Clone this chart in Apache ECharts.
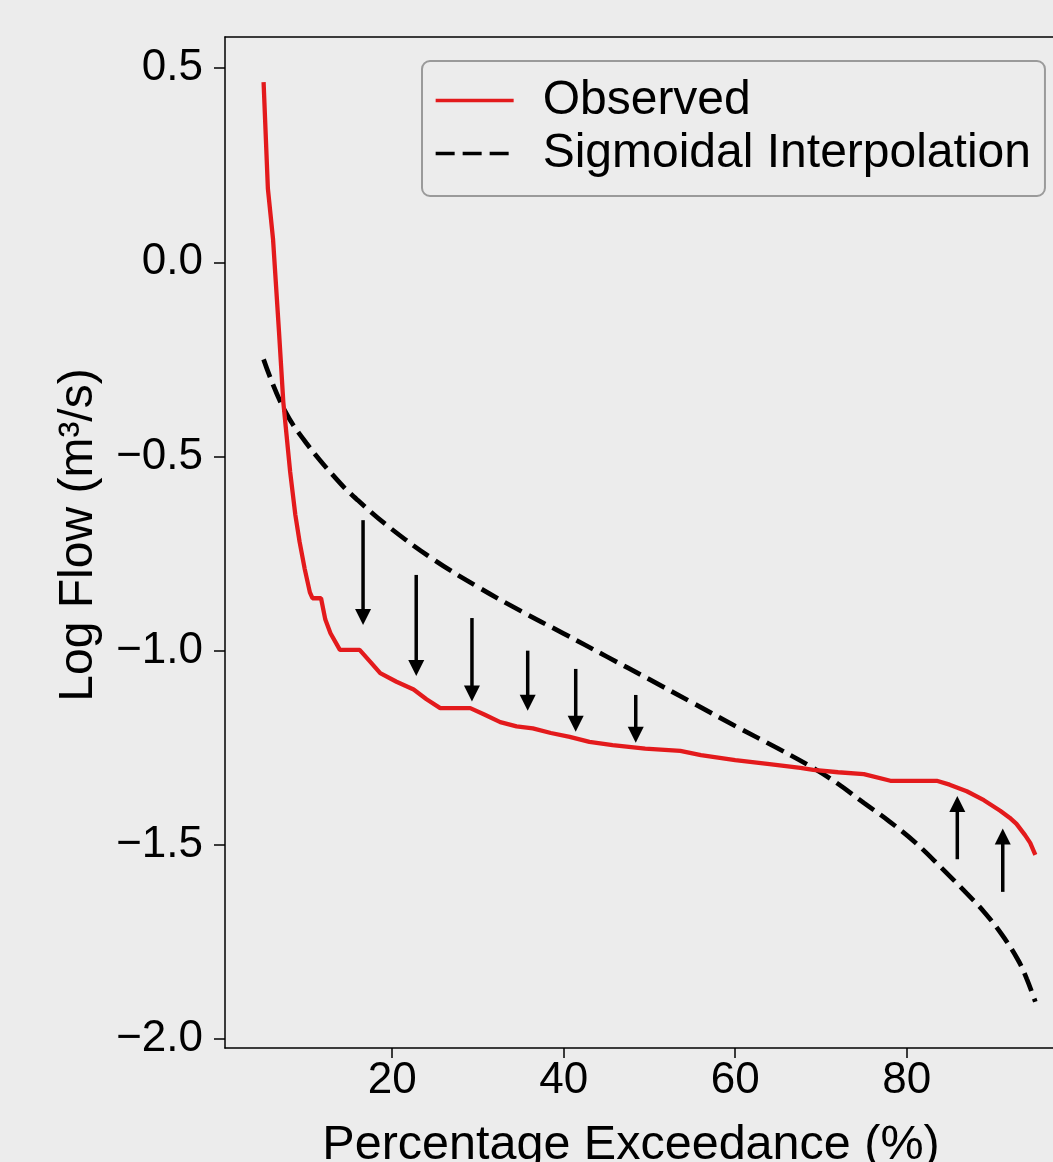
<!DOCTYPE html>
<html>
<head>
<meta charset="utf-8">
<script src="https://cdn.jsdelivr.net/npm/echarts@6/dist/echarts.min.js"></script>
<style>
html,body{margin:0;padding:0;background:#ececec;}
#chart{width:1053px;height:1162px;}
</style>
</head>
<body>
<div id="chart"></div>
<script>
// Observed flow duration curve: [percentage exceedance, log flow]
const observed = [
  [5.0, 0.464], [5.5, 0.19], [6.1, 0.06], [6.8, -0.18], [7.3, -0.36],
  [8.1, -0.54], [8.7, -0.65], [9.2, -0.72], [9.8, -0.79], [10.4, -0.85],
  [10.7, -0.865], [11.7, -0.865], [12.2, -0.92], [12.8, -0.955], [13.9, -0.998],
  [16.2, -0.998], [17.5, -1.03], [18.6, -1.058], [20.5, -1.08], [22.5, -1.10],
  [24.0, -1.125], [25.6, -1.148], [29.1, -1.148], [30.8, -1.165], [32.6, -1.184],
  [34.5, -1.195], [36.4, -1.20], [38.5, -1.212], [40.7, -1.222], [43.0, -1.235],
  [45.7, -1.243], [49.5, -1.252], [53.6, -1.258], [56.0, -1.269], [60.0, -1.282],
  [64.0, -1.292], [67.6, -1.302], [69.1, -1.307], [72.0, -1.313], [75.0, -1.318],
  [78.1, -1.335], [83.5, -1.335], [85.0, -1.345], [87.0, -1.362], [89.0, -1.385],
  [90.9, -1.412], [92.0, -1.430], [92.8, -1.446], [93.8, -1.475], [94.4, -1.495],
  [95.0, -1.526]
];
// Sigmoidal interpolation curve
const sigmoid = [
  [5, -0.25], [7.3, -0.375], [10, -0.466], [13.9, -0.568], [16, -0.613],
  [20, -0.688], [25, -0.768], [30, -0.836], [35, -0.898], [40, -0.956],
  [45, -1.015], [50, -1.074], [55, -1.134], [60, -1.194], [65, -1.252],
  [69.1, -1.302], [72, -1.343], [75, -1.392], [78, -1.440], [81, -1.494],
  [84, -1.558], [87, -1.625], [89, -1.672], [91, -1.728], [93, -1.797],
  [94, -1.845], [95, -1.904]
];
// Arrows: [x, y start, y tip]
const arrows = [
  [16.6, -0.664, -0.934], [22.8, -0.805, -1.065], [29.3, -0.916, -1.131],
  [35.8, -1.0, -1.155], [41.4, -1.047, -1.209], [48.4, -1.114, -1.237],
  [85.9, -1.537, -1.374], [91.2, -1.621, -1.458]
];
const xTicks = [20, 40, 60, 80];
const yTicks = [-2.0, -1.5, -1.0, -0.5, 0.0, 0.5];

const FONT = "'Liberation Sans', Arial, sans-serif";
const chart = echarts.init(document.getElementById('chart'), null, {renderer: 'canvas'});

chart.setOption({
  backgroundColor: '#ececec',
  animation: false,
  textStyle: {fontFamily: FONT, color: '#000'},
  grid: {
    left: 225, top: 37, right: 0, height: 1011,
    show: false,
    containLabel: false,
    outerBoundsMode: 'none'
  },
  legend: {
    data: ['Observed', 'Sigmoidal Interpolation'],
    orient: 'vertical',
    left: 422, top: 61,
    padding: [13, 14, 16, 12],
    itemGap: 0,
    itemWidth: 78, itemHeight: 14,
    itemStyle: {opacity: 0},
    lineStyle: {width: 3.3},
    backgroundColor: '#ececec',
    borderColor: '#9a9a9a', borderWidth: 2, borderRadius: 8,
    textStyle: {fontFamily: FONT, fontSize: 48, color: '#000', lineHeight: 53, padding: [0, 0, 0, 24]}
  },
  xAxis: [{
    type: 'value', min: 0.5, max: 97.06,
    name: 'Percentage Exceedance (%)',
    nameLocation: 'middle', nameGap: 73,
    nameTextStyle: {fontFamily: FONT, fontSize: 48.5, color: '#000', padding: [0, 16, 0, 0]},
    axisLine: {show: true, onZero: false, lineStyle: {color: '#000', width: 1.5}},
    axisTick: {show: true, length: 10, inside: false, lineStyle: {color: '#000', width: 1.5}, customValues: xTicks},
    axisLabel: {fontFamily: FONT, fontSize: 44, color: '#000', margin: 11, customValues: xTicks,
      formatter: v => String(Math.round(v))},
    splitLine: {show: false}
  }, {
    type: 'value', min: 0.5, max: 97.06, position: 'top',
    axisLine: {show: true, onZero: false, lineStyle: {color: '#000', width: 1.5}},
    axisTick: {show: false}, axisLabel: {show: false}, splitLine: {show: false}
  }],
  yAxis: {
    type: 'value', min: -2.023, max: 0.58,
    name: 'Log Flow (m³/s)',
    nameLocation: 'middle', nameGap: 122,
    nameTextStyle: {fontFamily: FONT, fontSize: 48, color: '#000', padding: [0, 0, 0, 15]},
    axisLine: {show: true, onZero: false, lineStyle: {color: '#000', width: 1.5}},
    axisTick: {show: true, length: 11, inside: false, lineStyle: {color: '#000', width: 1.5}, customValues: yTicks},
    axisLabel: {fontFamily: FONT, fontSize: 44, color: '#000', margin: 22, customValues: yTicks,
      formatter: v => v.toFixed(1).replace('-', '\u2212')},
    splitLine: {show: false}
  },
  series: [
    {
      name: 'Observed', type: 'line', data: observed,
      symbol: 'none', smooth: false,
      lineStyle: {color: '#e31a1c', width: 4.3},
      itemStyle: {color: '#e31a1c'},
      z: 3
    },
    {
      name: 'Sigmoidal Interpolation', type: 'line', data: sigmoid,
      symbol: 'none', smooth: 0.4,
      lineStyle: {color: '#000', width: 4.7, type: [19, 8]},
      itemStyle: {color: '#000'},
      z: 2
    },
    {
      name: 'arrows', type: 'custom', data: arrows,
      encode: {x: 0, y: [1, 2]},
      z: 4, silent: true,
      renderItem: function (params, api) {
        const x = api.value(0);
        const p1 = api.coord([x, api.value(1)]);
        const p2 = api.coord([x, api.value(2)]);
        const dir = p2[1] > p1[1] ? 1 : -1;
        const headLen = 16, headHalf = 8;
        const base = p2[1] - dir * headLen;
        return {
          type: 'group',
          children: [
            {type: 'line', shape: {x1: p1[0], y1: p1[1], x2: p1[0], y2: base + dir * 1},
              style: {stroke: '#000', lineWidth: 3.5}},
            {type: 'polygon', shape: {points: [[p2[0] - headHalf, base], [p2[0] + headHalf, base], [p2[0], p2[1]]]},
              style: {fill: '#000'}}
          ]
        };
      }
    }
  ]
});
</script>
</body>
</html>
